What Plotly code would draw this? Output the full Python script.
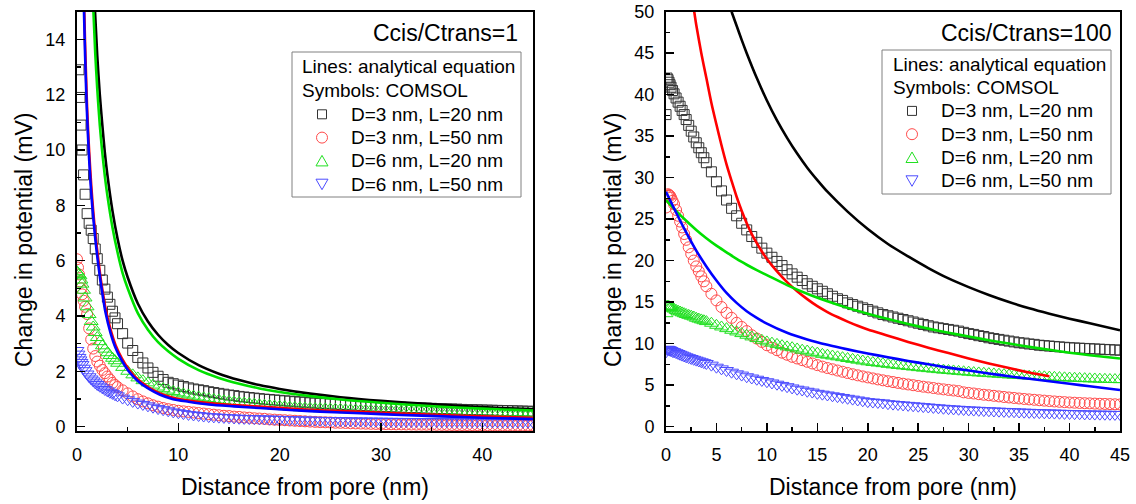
import plotly.graph_objects as go

# ---------------- data ----------------
# common x grid of the COMSOL symbols (nm)
X_COMSOL = [0, 0.1, 0.2, 0.3, 0.4, 0.5, 0.65, 0.8, 1.0, 1.2, 1.4, 1.6, 1.8, 2.0, 2.25, 2.5, 2.75, 3.0, 3.25, 3.5, 3.75, 4.0,
            4.5, 5.0, 5.5, 6.0, 6.5, 7.0, 7.5, 8.0, 8.5, 9.0,
            9.5, 10.0, 10.5, 11.0, 11.5, 12.0, 12.5, 13.0, 13.5, 14.0,
            14.5, 15.0, 15.5, 16.0, 16.5, 17.0, 17.5, 18.0, 18.5, 19.0,
            19.5, 20.0, 20.5, 21.0, 21.5, 22.0, 22.5, 23.0, 23.5, 24.0,
            24.5, 25.0, 25.5, 26.0, 26.5, 27.0, 27.5, 28.0, 28.5, 29.0,
            29.5, 30.0, 30.5, 31.0, 31.5, 32.0, 32.5, 33.0, 33.5, 34.0,
            34.5, 35.0, 35.5, 36.0, 36.5, 37.0, 37.5, 38.0, 38.5, 39.0,
            39.5, 40.0, 40.5, 41.0, 41.5, 42.0, 42.5, 43.0, 43.5, 44.0,
            44.5, 45.0]

SERIES_NAMES = ["D=3 nm, L=20 nm", "D=3 nm, L=50 nm", "D=6 nm, L=20 nm", "D=6 nm, L=50 nm"]
LEGEND_TITLE = ["Lines: analytical equation", "Symbols: COMSOL"]
PANEL_TITLES = ["Ccis/Ctrans=1", "Ccis/Ctrans=100"]
X_TITLE = "Distance from pore (nm)"
Y_TITLE = "Change in potential (mV)"

# ---- Ccis/Ctrans = 1 : COMSOL symbols ----
sym1_d3_l20 = [None, None, 12.9, 11.9, 10.9, 10.0, 9.1, 8.4, 7.7, 7.35, 7.1, 6.8, 6.42, 6.07, 5.65, 5.3, 4.97, 4.68, 4.42, 4.17, 3.93, 3.72,
               3.36, 3.02, 2.75, 2.5, 2.3, 2.12, 1.96, 1.82, 1.7, 1.6,
               1.55, 1.5, 1.45, 1.4, 1.36, 1.33, 1.3, 1.26, 1.23, 1.2,
               1.17, 1.14, 1.12, 1.09, 1.07, 1.05, 1.03, 1.01, 0.99, 0.98,
               0.96, 0.95, 0.93, 0.92, 0.9, 0.89, 0.88, 0.86, 0.85, 0.84,
               0.83, 0.82, 0.81, 0.8, 0.79, 0.78, 0.77, 0.76, 0.75, 0.74,
               0.735, 0.73, 0.72, 0.71, 0.705, 0.7, 0.69, 0.685, 0.68, 0.67,
               0.665, 0.66, 0.65, 0.645, 0.64, 0.635, 0.63, 0.62, 0.615, 0.61,
               0.605, 0.6, 0.595, 0.59, 0.585, 0.58, 0.575, 0.57, 0.565, 0.56,
               0.555, 0.55]
sym1_d3_l50 = [6.05, 5.75, 5.5, 5.25, 5.0, 4.78, 4.55, 4.33, 4.07, 3.55, 3.15, 2.82, 2.55, 2.35, 2.2, 2.05, 1.93, 1.81, 1.7, 1.58, 1.5, 1.43,
               1.31, 1.2, 1.09, 0.99, 0.91, 0.84, 0.77, 0.72, 0.67, 0.63,
               0.6, 0.57, 0.55, 0.53, 0.51, 0.49, 0.47, 0.45, 0.43, 0.41,
               0.39, 0.38, 0.36, 0.35, 0.33, 0.32, 0.3, 0.29, 0.28, 0.26,
               0.25, 0.24, 0.23, 0.22, 0.21, 0.2, 0.19, 0.18, 0.17, 0.16,
               0.155, 0.15, 0.14, 0.135, 0.13, 0.12, 0.115, 0.11, 0.105, 0.1,
               0.095, 0.09, 0.088, 0.085, 0.082, 0.08, 0.077, 0.075, 0.072, 0.07,
               0.068, 0.066, 0.064, 0.062, 0.06, 0.058, 0.056, 0.055, 0.054, 0.053,
               0.052, 0.051, 0.05, 0.049, 0.048, 0.047, 0.046, 0.045, 0.044, 0.043,
               0.042, 0.041]
sym1_d6_l20 = [5.6, 5.55, 5.5, 5.45, 5.3, 5.15, 4.93, 4.65, 4.33, 4.05, 3.8, 3.6, 3.4, 3.22, 3.07, 2.92, 2.8, 2.67, 2.57, 2.47, 2.38, 2.29,
               2.14, 2.0, 1.87, 1.76, 1.66, 1.58, 1.5, 1.43, 1.37, 1.32,
               1.27, 1.22, 1.18, 1.14, 1.1, 1.07, 1.04, 1.01, 0.98, 0.96,
               0.93, 0.91, 0.89, 0.87, 0.85, 0.83, 0.81, 0.79, 0.77, 0.76,
               0.74, 0.73, 0.72, 0.7, 0.69, 0.68, 0.67, 0.66, 0.65, 0.645,
               0.64, 0.63, 0.625, 0.62, 0.61, 0.605, 0.6, 0.595, 0.59, 0.585,
               0.58, 0.575, 0.57, 0.565, 0.56, 0.555, 0.55, 0.545, 0.54, 0.535,
               0.532, 0.53, 0.526, 0.522, 0.518, 0.515, 0.512, 0.509, 0.506, 0.503,
               0.5, 0.498, 0.496, 0.494, 0.492, 0.49, 0.488, 0.486, 0.484, 0.482,
               0.481, 0.48]
sym1_d6_l50 = [2.75, 2.62, 2.5, 2.41, 2.32, 2.24, 2.11, 2.02, 1.9, 1.8, 1.72, 1.65, 1.58, 1.52, 1.46, 1.4, 1.34, 1.29, 1.24, 1.2, 1.15, 1.11,
               1.03, 0.97, 0.91, 0.85, 0.8, 0.75, 0.7, 0.65, 0.61, 0.57,
               0.53, 0.5, 0.47, 0.44, 0.42, 0.4, 0.38, 0.36, 0.35, 0.34,
               0.33, 0.32, 0.31, 0.3, 0.295, 0.29, 0.285, 0.28, 0.275, 0.27,
               0.265, 0.26, 0.255, 0.25, 0.245, 0.24, 0.236, 0.232, 0.228, 0.224,
               0.22, 0.217, 0.214, 0.211, 0.208, 0.205, 0.202, 0.2, 0.198, 0.196,
               0.194, 0.192, 0.19, 0.188, 0.186, 0.185, 0.184, 0.183, 0.182, 0.181,
               0.18, 0.179, 0.178, 0.177, 0.176, 0.175, 0.174, 0.173, 0.172, 0.171,
               0.17, 0.169, 0.168, 0.167, 0.166, 0.165, 0.164, 0.163, 0.162, 0.161,
               0.16, 0.16]

# ---- Ccis/Ctrans = 100 : COMSOL symbols ----
sym100_d3_l20 = [37.6, 42.0, 41.8, 41.5, 41.2, 40.9, 40.5, 40.1, 39.6, 39.1, 38.6, 38.1, 37.6, 37.0, 36.3, 35.6, 34.9, 34.2, 33.6, 33.0, 32.4, 31.8,
                 30.7, 29.5, 28.4, 27.3, 26.3, 25.4, 24.5, 23.7, 22.9, 22.2,
                 21.5, 20.9, 20.4, 19.9, 19.4, 18.9, 18.4, 18.0, 17.6, 17.2,
                 16.9, 16.6, 16.3, 16.0, 15.7, 15.4, 15.2, 14.9, 14.7, 14.5,
                 14.3, 14.1, 13.9, 13.7, 13.5, 13.35, 13.2, 13.05, 12.9, 12.75,
                 12.6, 12.45, 12.3, 12.15, 12.0, 11.9, 11.8, 11.7, 11.6, 11.5,
                 11.35, 11.2, 11.1, 10.95, 10.85, 10.7, 10.6, 10.5, 10.4, 10.3,
                 10.2, 10.1, 10.05, 9.95, 9.9, 9.8, 9.75, 9.7, 9.65, 9.6,
                 9.55, 9.5, 9.47, 9.44, 9.41, 9.38, 9.35, 9.32, 9.29, 9.26,
                 9.23, 9.2]
sym100_d3_l50 = [26.4, 27.8, 28.0, 27.9, 27.8, 27.6, 27.2, 26.8, 26.1, 25.4, 24.7, 24.0, 23.2, 22.5, 21.6, 20.8, 20.0, 19.3, 18.7, 18.1, 17.5, 16.9,
                 16.0, 15.2, 14.4, 13.7, 13.1, 12.5, 12.0, 11.5, 11.0, 10.6,
                 10.2, 9.8, 9.5, 9.2, 8.9, 8.65, 8.4, 8.2, 8.0, 7.8,
                 7.6, 7.4, 7.22, 7.05, 6.9, 6.75, 6.6, 6.45, 6.3, 6.17,
                 6.04, 5.92, 5.8, 5.68, 5.57, 5.46, 5.36, 5.26, 5.16, 5.07,
                 4.98, 4.89, 4.8, 4.72, 4.64, 4.56, 4.48, 4.41, 4.34, 4.27,
                 4.12, 4.05, 3.98, 3.9, 3.83, 3.77, 3.7, 3.63, 3.56, 3.5,
                 3.44, 3.38, 3.32, 3.27, 3.22, 3.17, 3.12, 3.07, 3.02, 2.98,
                 2.94, 2.9, 2.87, 2.84, 2.81, 2.79, 2.76, 2.74, 2.72, 2.7,
                 2.68, 2.66]
sym100_d6_l20 = [13.6, 14.5, 14.5, 14.45, 14.4, 14.35, 14.25, 14.15, 14.0, 13.9, 13.8, 13.7, 13.6, 13.5, 13.4, 13.3, 13.2, 13.05, 12.95, 12.85, 12.75, 12.65,
                 12.45, 12.2, 12.0, 11.8, 11.6, 11.4, 11.2, 11.0, 10.8, 10.6,
                 10.4, 10.2, 10.05, 9.9, 9.75, 9.6, 9.5, 9.35, 9.2, 9.1,
                 8.95, 8.85, 8.7, 8.6, 8.5, 8.4, 8.3, 8.2, 8.1, 8.0,
                 7.9, 7.8, 7.72, 7.65, 7.58, 7.5, 7.43, 7.36, 7.3, 7.23,
                 7.17, 7.1, 7.04, 6.98, 6.92, 6.86, 6.8, 6.75, 6.7, 6.65,
                 6.6, 6.55, 6.5, 6.46, 6.42, 6.38, 6.34, 6.3, 6.26, 6.22,
                 6.18, 6.15, 6.12, 6.08, 6.05, 6.02, 5.99, 5.96, 5.93, 5.9,
                 5.87, 5.85, 5.82, 5.8, 5.77, 5.75, 5.73, 5.71, 5.69, 5.67,
                 5.66, 5.65]
sym100_d6_l50 = [9.0, 9.3, 9.3, 9.25, 9.2, 9.15, 9.05, 9.0, 8.9, 8.8, 8.7, 8.6, 8.5, 8.4, 8.3, 8.2, 8.1, 8.0, 7.9, 7.8, 7.7, 7.6,
                 7.4, 7.15, 6.95, 6.75, 6.55, 6.35, 6.2, 6.0, 5.85, 5.7,
                 5.55, 5.4, 5.25, 5.1, 4.95, 4.8, 4.65, 4.5, 4.4, 4.25,
                 4.15, 4.0, 3.9, 3.8, 3.7, 3.6, 3.5, 3.4, 3.3, 3.2,
                 3.1, 3.0, 2.95, 2.9, 2.85, 2.75, 2.7, 2.65, 2.6, 2.55,
                 2.5, 2.45, 2.4, 2.35, 2.3, 2.25, 2.2, 2.15, 2.12, 2.08,
                 2.05, 2.0, 1.98, 1.95, 1.92, 1.9, 1.87, 1.85, 1.82, 1.8,
                 1.78, 1.75, 1.73, 1.71, 1.69, 1.67, 1.65, 1.63, 1.62, 1.6,
                 1.58, 1.57, 1.55, 1.54, 1.52, 1.51, 1.5, 1.49, 1.48, 1.47,
                 1.46, 1.45]

# ---- Ccis/Ctrans = 1 : analytical lines ----
line1_d3_l20_x = [1.78, 2.0, 2.25, 2.5, 2.75, 3.0, 3.5, 4.0, 4.5, 5, 6, 7, 8, 9, 10, 12, 14, 16, 18, 20, 23, 26, 30, 34, 38, 42, 45]
line1_d3_l20_y = [15.0, 13.4, 12.0, 10.9, 9.9, 9.1, 7.8, 6.8, 6.0, 5.4, 4.45, 3.8, 3.32, 2.95, 2.66, 2.22, 1.91, 1.68, 1.5, 1.36, 1.19, 1.06, 0.93, 0.83, 0.74, 0.67, 0.63]
line1_d6_l20_x = [1.62, 1.8, 2.0, 2.25, 2.5, 2.75, 3.0, 3.5, 4.0, 4.5, 5, 6, 7, 8, 9, 10, 12, 14, 16, 18, 20, 23, 26, 30, 34, 38, 42, 45]
line1_d6_l20_y = [15.0, 13.5, 12.2, 10.9, 9.9, 9.05, 8.35, 7.2, 6.3, 5.55, 5.0, 4.1, 3.5, 3.05, 2.72, 2.45, 2.04, 1.76, 1.55, 1.38, 1.25, 1.1, 0.98, 0.86, 0.76, 0.68, 0.62, 0.58]
line1_d3_l50_x = [0.72, 0.8, 0.9, 1.0, 1.15, 1.32, 1.5, 1.8, 2.05, 2.3, 2.55, 2.8, 3.3, 3.8, 4.4, 5.1, 6.0, 7.1, 8.2, 9.4, 11, 13, 15.5, 18, 21, 24, 28, 32, 36, 40, 45]
line1_d3_l50_y = [15.0, 13.8, 12.6, 11.5, 10.3, 9.2, 8.25, 7.0, 6.2, 5.45, 4.85, 4.3, 3.52, 2.95, 2.48, 2.07, 1.7, 1.41, 1.2, 1.05, 0.94, 0.85, 0.78, 0.72, 0.65, 0.59, 0.53, 0.47, 0.42, 0.37, 0.32]
line1_d6_l50_x = [0.69, 0.8, 0.9, 1.0, 1.15, 1.32, 1.5, 1.8, 2.05, 2.3, 2.55, 2.8, 3.3, 3.8, 4.4, 5.1, 6.0, 7.1, 8.2, 9.4, 11, 13, 15.5, 18, 21, 24, 28, 32, 36, 40, 45]
line1_d6_l50_y = [15.0, 13.4, 12.2, 11.2, 10.0, 8.9, 8.0, 6.8, 6.0, 5.3, 4.7, 4.15, 3.4, 2.85, 2.4, 2.0, 1.65, 1.36, 1.15, 1.0, 0.9, 0.8, 0.73, 0.67, 0.6, 0.54, 0.48, 0.42, 0.37, 0.32, 0.27]

# ---- Ccis/Ctrans = 100 : analytical lines ----
line100_d3_l20_x = [6.5, 7, 7.5, 8, 9, 10, 11, 12, 13, 14, 15, 16, 18, 20, 22, 24, 26, 28, 30, 32, 34, 36, 38, 40, 42, 45]
line100_d3_l20_y = [50.0, 48.3, 46.6, 45.0, 42.0, 39.3, 36.9, 34.8, 32.9, 31.2, 29.7, 28.3, 25.9, 23.8, 22.0, 20.5, 19.1, 17.85, 16.8, 15.85, 15.0, 14.25, 13.6, 13.0, 12.45, 11.6]
line100_d3_l50_x = [2.8, 3.0, 3.5, 4.0, 4.5, 5.0, 5.5, 6.0, 6.5, 7.0, 7.5, 8.0, 8.5, 9.0, 9.5, 10, 11, 12, 13, 14, 15, 16, 17, 18, 19, 20, 22, 24, 26, 28, 30, 32, 34, 36, 38]
line100_d3_l50_y = [50.0, 48.4, 45.0, 42.0, 39.0, 36.4, 33.9, 31.6, 29.6, 27.7, 26.0, 24.5, 23.2, 22.1, 21.1, 20.2, 18.7, 17.4, 16.3, 15.35, 14.5, 13.8, 13.2, 12.65, 12.15, 11.7, 10.95, 10.2, 9.5, 8.85, 8.2, 7.6, 7.05, 6.5, 6.05]
line100_d6_l20_x = [0, 1, 2, 3, 4, 5, 6, 7, 8, 9, 10, 12, 14, 16, 18, 20, 22, 24, 26, 28, 30, 32, 34, 36, 38, 40, 42, 45]
line100_d6_l20_y = [27.3, 26.0, 24.8, 23.7, 22.7, 21.8, 21.0, 20.2, 19.5, 18.85, 18.25, 17.05, 16.0, 15.1, 14.3, 13.6, 12.95, 12.35, 11.8, 11.3, 10.85, 10.4, 10.0, 9.6, 9.25, 8.9, 8.6, 8.2]
line100_d6_l50_x = [0, 1, 2, 3, 4, 5, 6, 7, 8, 9, 10, 12, 14, 16, 18, 20, 22, 24, 26, 28, 30, 32, 34, 36, 38, 40, 42, 45]
line100_d6_l50_y = [28.3, 25.8, 23.4, 21.2, 19.3, 17.6, 16.1, 14.9, 13.9, 13.1, 12.4, 11.3, 10.5, 9.85, 9.3, 8.8, 8.35, 7.9, 7.5, 7.1, 6.75, 6.4, 6.05, 5.75, 5.45, 5.15, 4.85, 4.4]

for s in (sym1_d3_l20, sym1_d3_l50, sym1_d6_l20, sym1_d6_l50,
          sym100_d3_l20, sym100_d3_l50, sym100_d6_l20, sym100_d6_l50):
    assert len(s) == len(X_COMSOL), len(s)

# ---------------- style ----------------
FONT = "Liberation Sans, Arial, sans-serif"
SYMBOLS = ["square-open", "circle-open", "triangle-up-open", "triangle-down-open"]
SYM_COLORS = ["#333333", "#ff4a4a", "#22e022", "#4c4cff"]
SYM_SIZES = [10, 11, 12, 12]
LINE_COLORS = ["#000000", "#ff0000", "#00e000", "#0000ff"]

fig = go.Figure()

def add_symbols(ys, xa, ya):
    for i, y in enumerate(ys):
        fig.add_trace(go.Scatter(
            x=X_COMSOL, y=y, mode="markers", name=SERIES_NAMES[i],
            marker=dict(symbol=SYMBOLS[i], size=SYM_SIZES[i], color=SYM_COLORS[i],
                        line=dict(width=1, color=SYM_COLORS[i])),
            xaxis=xa, yaxis=ya, showlegend=False))

def add_line(x, y, color, xa, ya):
    fig.add_trace(go.Scatter(x=x, y=y, mode="lines", line=dict(color=color, width=2.6, shape="spline", smoothing=0.8),
                             xaxis=xa, yaxis=ya, showlegend=False, hoverinfo="skip"))

add_symbols([sym1_d3_l20, sym1_d3_l50, sym1_d6_l20, sym1_d6_l50], "x", "y")
add_symbols([sym100_d3_l20, sym100_d3_l50, sym100_d6_l20, sym100_d6_l50], "x2", "y2")

add_line(line1_d3_l20_x, line1_d3_l20_y, LINE_COLORS[0], "x", "y")
add_line(line1_d6_l20_x, line1_d6_l20_y, LINE_COLORS[2], "x", "y")
add_line(line1_d3_l50_x, line1_d3_l50_y, LINE_COLORS[1], "x", "y")
add_line(line1_d6_l50_x, line1_d6_l50_y, LINE_COLORS[3], "x", "y")

add_line(line100_d3_l20_x, line100_d3_l20_y, LINE_COLORS[0], "x2", "y2")
add_line(line100_d3_l50_x, line100_d3_l50_y, LINE_COLORS[1], "x2", "y2")
add_line(line100_d6_l20_x, line100_d6_l20_y, LINE_COLORS[2], "x2", "y2")
add_line(line100_d6_l50_x, line100_d6_l50_y, LINE_COLORS[3], "x2", "y2")

W, H = 1136, 504
def px(v):
    return v / W
def py(v):
    return 1 - v / H

axis_common = dict(showline=True, linecolor="black", linewidth=2, mirror=True,
                   ticks="inside", ticklen=8, tickwidth=1.5, tickcolor="black",
                   showgrid=False, zeroline=False, ticklabelstandoff=6, automargin=False,
                   tickfont=dict(family=FONT, size=18, color="black"))
minor_common = dict(ticks="inside", ticklen=4, tickwidth=1.5, tickcolor="black")

fig.update_layout(
    width=W, height=H, margin=dict(l=0, r=0, t=0, b=0, autoexpand=False),
    paper_bgcolor="white", plot_bgcolor="white",
    font=dict(family=FONT, color="black"),
    showlegend=False, hovermode=False,
    xaxis=dict(domain=[px(77), px(533)], range=[0, 45], tick0=0, dtick=10,
               minor=dict(dtick=5, **minor_common), **axis_common),
    yaxis=dict(domain=[py(431), py(11.7)], range=[-0.16, 15], tick0=0, dtick=2,
               minor=dict(dtick=1, **minor_common), **axis_common),
    xaxis2=dict(domain=[px(666), px(1120)], range=[0, 45], tick0=0, dtick=5, anchor="y2",
                minor=dict(dtick=2.5, **minor_common), **axis_common),
    yaxis2=dict(domain=[py(431), py(11.7)], range=[-0.54, 50], tick0=0, dtick=5, anchor="x2",
                minor=dict(dtick=2.5, **minor_common), **axis_common),
)

# ---------- legend boxes (drawn as layout decorations) ----------
LEG_FONT = dict(family=FONT, size=19, color="black")
legend_boxes = [
    dict(l=292, r=521, t=52, b=197, tx=300, sx=322, ex=349, rows=[66.7, 90.3, 114.3, 137.6, 160.9, 184.2]),
    dict(l=882, r=1111, t=50, b=194, tx=891, sx=912, ex=939, rows=[64.0, 87.5, 110.9, 134.2, 157.5, 180.8]),
]
shapes = []
for lb in legend_boxes:
    shapes.append(dict(type="rect", xref="paper", yref="paper", x0=px(lb["l"]), x1=px(lb["r"]),
                       y0=py(lb["b"]), y1=py(lb["t"]), line=dict(color="#808080", width=1),
                       fillcolor="white", layer="above"))
    for k, txt in enumerate(LEGEND_TITLE):
        fig.add_annotation(text=txt, x=px(lb["tx"]), y=py(lb["rows"][k]), xref="paper", yref="paper",
                           xanchor="left", yanchor="middle", showarrow=False, font=LEG_FONT)
    for i, name in enumerate(SERIES_NAMES):
        cy = lb["rows"][2 + i]
        cx = lb["sx"]
        fig.add_annotation(text=name, x=px(lb["ex"]), y=py(cy), xref="paper", yref="paper",
                           xanchor="left", yanchor="middle", showarrow=False, font=LEG_FONT)
        col = SYM_COLORS[i]
        if i == 0:
            shapes.append(dict(type="rect", xref="paper", yref="paper", x0=px(cx - 4.5), x1=px(cx + 4.5),
                               y0=py(cy + 4.5), y1=py(cy - 4.5), line=dict(color=col, width=1), layer="above"))
        elif i == 1:
            shapes.append(dict(type="circle", xref="paper", yref="paper", x0=px(cx - 5.5), x1=px(cx + 5.5),
                               y0=py(cy + 5.5), y1=py(cy - 5.5), line=dict(color=col, width=1), layer="above"))
        elif i == 2:
            path = "M %f,%f L %f,%f L %f,%f Z" % (px(cx - 6), py(cy + 5), px(cx + 6), py(cy + 5), px(cx), py(cy - 5.5))
            shapes.append(dict(type="path", xref="paper", yref="paper", path=path,
                               line=dict(color=col, width=1), layer="above"))
        else:
            path = "M %f,%f L %f,%f L %f,%f Z" % (px(cx - 6), py(cy - 5), px(cx + 6), py(cy - 5), px(cx), py(cy + 5.5))
            shapes.append(dict(type="path", xref="paper", yref="paper", path=path,
                               line=dict(color=col, width=1), layer="above"))
fig.update_layout(shapes=shapes)

ann_font = dict(family=FONT, size=23, color="black")
fig.add_annotation(text=PANEL_TITLES[0], x=px(520), y=py(33), xref="paper", yref="paper",
                   xanchor="right", yanchor="middle", showarrow=False, font=ann_font)
fig.add_annotation(text=PANEL_TITLES[1], x=px(1114), y=py(33), xref="paper", yref="paper",
                   xanchor="right", yanchor="middle", showarrow=False, font=ann_font)
for cx in (305, 893):
    fig.add_annotation(text=X_TITLE, x=px(cx), y=py(487), xref="paper", yref="paper",
                       xanchor="center", yanchor="middle", showarrow=False, font=ann_font)
for cx in (24, 613):
    fig.add_annotation(text=Y_TITLE, x=px(cx), y=py(240), xref="paper", yref="paper",
                       xanchor="center", yanchor="middle", showarrow=False, textangle=-90, font=ann_font)

# remove the browser's default 8px page margin so the figure sits at the window origin
fig.write_html("out.html", config={"displayModeBar": False, "staticPlot": True},
               post_script="document.body.style.margin='0';document.body.style.overflow='hidden';")
